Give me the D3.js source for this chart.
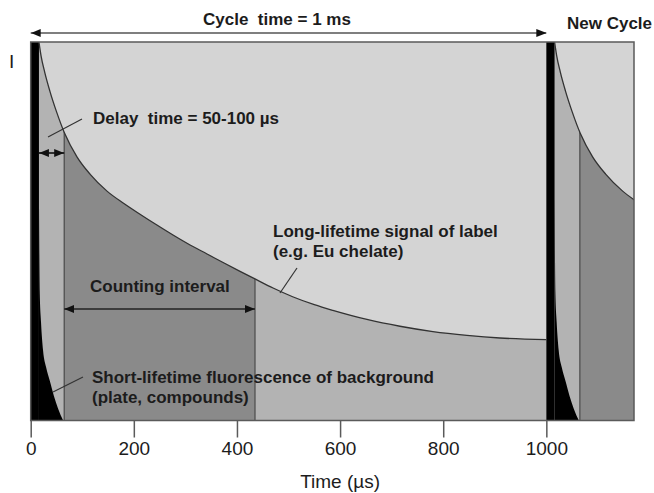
<!DOCTYPE html>
<html>
<head>
<meta charset="utf-8">
<script src="https://cdn.jsdelivr.net/npm/d3@7"></script>
<style>
  html, body { margin: 0; padding: 0; background: #fff; }
  svg { display: block; font-family: "Liberation Sans", Arial, Helvetica, sans-serif; }
  .lbl { font-weight: bold; font-size: 17px; fill: #1c1c1c; }
</style>
</head>
<body>
<svg id="chart" width="654" height="493"></svg>
<script>
// Time axis (µs)
const tickValues = [0, 200, 400, 600, 800, 1000];
const timeMax = 1170;
const cycleLength = 1000;   // one measurement cycle, µs
const flashEnd = 16;        // excitation flash duration, µs
const delayEnd = 65;        // end of delay time, µs
const countEnd = 435;       // end of counting interval, µs

// Long-lifetime label signal (Eu chelate), relative intensity
const longTime      = [16, 20, 27, 37, 50, 66, 90, 115, 148, 180, 212, 244, 276, 310, 342, 375, 406, 435, 470, 508, 550, 586, 652, 716, 780, 846, 910, 1000];
const longIntensity = [100, 96.4, 92.1, 87.1, 81.6, 75.8, 69.6, 65.1, 60.6, 57.4, 54.5, 51.7, 49.0, 46.3, 44.0, 41.6, 39.4, 37.4, 35.0, 32.7, 30.6, 29.1, 26.7, 24.9, 23.5, 22.5, 21.8, 21.35];

// Short-lifetime background fluorescence, relative intensity
const shortTime      = [16, 17.5, 20, 24, 30, 37, 45, 53, 63];
const shortIntensity = [60, 34, 26, 18.5, 14, 10.5, 6.5, 3.2, 0];

const svg = d3.select("#chart");
const x = d3.scaleLinear().domain([0, timeMax]).range([30.7, 634]);
const y = d3.scaleLinear().domain([0, 100]).range([420.5, 42]);

const COL_LIGHT = "#d4d4d4", COL_MID = "#b3b3b3", COL_DARK = "#8a8a8a";

const defs = svg.append("defs");
defs.append("clipPath").attr("id", "plotClip")
  .append("rect").attr("x", x(0)).attr("y", y(100))
  .attr("width", x(timeMax) - x(0)).attr("height", y(0) - y(100));

function series(times, vals, offset) {
  return times.map((t, i) => ({ t: t + offset, v: vals[i] }));
}
const cycles = [0, cycleLength];
const longSeries = cycles.map(o => series(longTime, longIntensity, o));
const shortSeries = cycles.map(o => series(shortTime, shortIntensity, o));

const area = d3.area().x(d => x(d.t)).y0(y(0)).y1(d => y(d.v)).curve(d3.curveMonotoneX);
const line = d3.line().x(d => x(d.t)).y(d => y(d.v)).curve(d3.curveMonotoneX);

// Clip for regions lying under the long-lifetime curve
const underClip = defs.append("clipPath").attr("id", "underClip");
longSeries.forEach(s => underClip.append("path").attr("d", area(s)));

const plot = svg.append("g").attr("clip-path", "url(#plotClip)");

// background above the curve
plot.append("rect").attr("x", x(0)).attr("y", y(100))
  .attr("width", x(timeMax) - x(0)).attr("height", y(0) - y(100)).attr("fill", COL_LIGHT);

// area under long-lifetime signal
longSeries.forEach(s => plot.append("path").attr("d", area(s)).attr("fill", COL_MID));

// counting intervals (dark) under the curve
const under = plot.append("g").attr("clip-path", "url(#underClip)");
cycles.forEach(o => {
  under.append("rect").attr("x", x(o + delayEnd)).attr("y", y(100))
    .attr("width", x(o + countEnd) - x(o + delayEnd)).attr("height", y(0) - y(100))
    .attr("fill", COL_DARK);
});
// interval boundaries under the curve
cycles.forEach(o => {
  [o + delayEnd, o + countEnd].forEach(t => {
    under.append("line").attr("x1", x(t)).attr("x2", x(t)).attr("y1", y(100)).attr("y2", y(0))
      .attr("stroke", "#4a4a4a").attr("stroke-width", 1.2);
  });
});

// short-lifetime background fluorescence
shortSeries.forEach(s => plot.append("path").attr("d", area(s)).attr("fill", "#000"));

// excitation flashes
cycles.forEach(o => {
  plot.append("rect").attr("x", x(o)).attr("y", y(100))
    .attr("width", x(o + flashEnd) - x(o)).attr("height", y(0) - y(100)).attr("fill", "#000");
});

// long-lifetime curve
longSeries.forEach(s => plot.append("path").attr("d", line(s))
  .attr("fill", "none").attr("stroke", "#333").attr("stroke-width", 1.3));

// plot frame
svg.append("rect").attr("x", x(0)).attr("y", y(100))
  .attr("width", x(timeMax) - x(0)).attr("height", y(0) - y(100))
  .attr("fill", "none").attr("stroke", "#5a5a5a").attr("stroke-width", 1.5);

// x axis
const axis = svg.append("g").attr("transform", `translate(0,${y(0)})`)
  .call(d3.axisBottom(x).tickValues(tickValues).tickFormat(d3.format("d"))
    .tickSize(17).tickSizeOuter(0).tickPadding(4));
axis.select(".domain").remove();
axis.selectAll(".tick line").attr("stroke", "#5a5a5a").attr("stroke-width", 1.5);
axis.selectAll(".tick text").attr("font-size", 19).attr("fill", "#1c1c1c")
  .attr("font-family", "Liberation Sans, Arial, sans-serif");

svg.append("text").attr("x", x(600)).attr("y", 488).attr("text-anchor", "middle")
  .attr("font-size", 19).attr("fill", "#1c1c1c").text("Time (µs)");
svg.append("text").attr("x", 9).attr("y", 68).attr("font-size", 19).attr("fill", "#1c1c1c").text("I");

// arrow markers
function marker(id, orient) {
  defs.append("marker").attr("id", id).attr("viewBox", "0 0 10 8")
    .attr("refX", 10).attr("refY", 4).attr("markerWidth", 10).attr("markerHeight", 8)
    .attr("markerUnits", "userSpaceOnUse").attr("orient", orient)
    .append("path").attr("d", "M0,0 L10,4 L0,8 Z").attr("fill", "#111");
}
marker("arrEnd", "auto");
marker("arrStart", "auto-start-reverse");

function dblArrow(t0, t1, yy, color) {
  svg.append("line").attr("x1", x(t0)).attr("x2", x(t1)).attr("y1", yy).attr("y2", yy)
    .attr("stroke", color).attr("stroke-width", 1.6)
    .attr("marker-start", "url(#arrStart)").attr("marker-end", "url(#arrEnd)");
}
dblArrow(0, cycleLength, 33, "#555");
dblArrow(flashEnd, delayEnd, 153, "#111");
dblArrow(delayEnd, countEnd, 309, "#222");

// labels
svg.append("text").attr("class", "lbl").attr("x", 203).attr("y", 25).attr("xml:space", "preserve").text("Cycle  time = 1 ms");
svg.append("text").attr("class", "lbl").attr("x", 567).attr("y", 29).text("New Cycle");
svg.append("text").attr("class", "lbl").attr("x", 93).attr("y", 124).attr("xml:space", "preserve").text("Delay  time = 50-100 µs");
svg.append("text").attr("class", "lbl").attr("x", 90).attr("y", 292).text("Counting interval");
svg.append("text").attr("class", "lbl").attr("x", 273).attr("y", 237).text("Long-lifetime signal of label");
svg.append("text").attr("class", "lbl").attr("x", 273).attr("y", 257).text("(e.g. Eu chelate)");
svg.append("text").attr("class", "lbl").attr("x", 92).attr("y", 383).text("Short-lifetime fluorescence of background");
svg.append("text").attr("class", "lbl").attr("x", 92).attr("y", 403).text("(plate, compounds)");

// leader lines
const leaders = [
  [48, 137, 82, 119],
  [297, 268, 280, 293],
  [83, 377, 53, 392]
];
svg.selectAll("line.leader").data(leaders).enter().append("line").attr("class", "leader")
  .attr("x1", d => d[0]).attr("y1", d => d[1]).attr("x2", d => d[2]).attr("y2", d => d[3])
  .attr("stroke", "#333").attr("stroke-width", 1.2);
</script>
</body>
</html>
